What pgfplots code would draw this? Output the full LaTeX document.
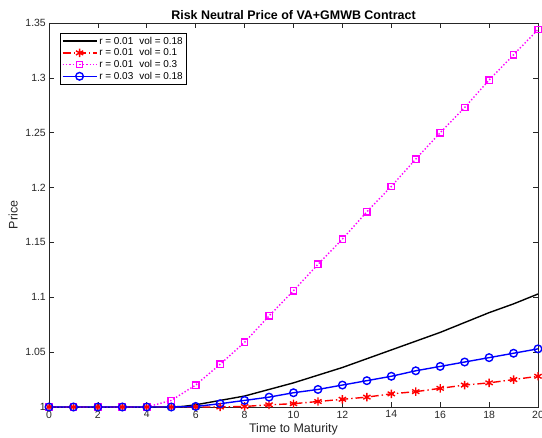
\documentclass[border=0pt]{standalone}
\usepackage{pgfplots}
\pgfplotsset{compat=1.18}
\usepackage{fontspec}
\setmainfont{Liberation Sans}
\begin{document}
\begin{tikzpicture}
\definecolor{axgray}{rgb}{0.15,0.15,0.15}
\definecolor{mmag}{rgb}{1,0,1}
\definecolor{mred}{rgb}{1,0,0}
\definecolor{mblue}{rgb}{0,0,1}
\begin{axis}[
  name=ax,
  scale only axis,
  width=489bp, height=384bp,
  xmin=0, xmax=20, ymin=1, ymax=1.35,
  xtick={0,2,...,20},
  ytick={1,1.05,1.1,1.15,1.2,1.25,1.3,1.35},
  yticklabels={1,1.05,1.1,1.15,1.2,1.25,1.3,1.35},
  tick align=inside,
  major tick length=5bp,
  axis line style={axgray, line width=0.7pt},
  every tick/.style={axgray, line width=0.7pt},
  tick label style={font=\fontsize{10.5}{12}\selectfont, text=axgray, inner sep=1pt},
  /pgf/number format/assume math mode=true,
  xticklabel style={yshift=-2.5bp},
  yticklabel style={xshift=-2bp},
  xlabel={Time to Maturity},
  ylabel={Price},
  label style={font=\fontsize{12.5}{14}\selectfont, text=axgray, inner sep=0pt},
  xlabel style={at={(axis description cs:0.5,0)}, anchor=north, yshift=-16bp},
  ylabel style={at={(axis description cs:0,0.5)}, anchor=south, yshift=31bp, rotate=0},
  title={\textbf{Risk Neutral Price of VA+GMWB Contract}},
  title style={font=\fontsize{12.5}{14}\selectfont, yshift=-6pt},
  legend style={at={(0.0225,0.974)}, anchor=north west, draw=black, line width=0.7pt,
    font=\fontsize{10}{12}\selectfont, inner sep=1.5pt, row sep=-1pt,
    /tikz/every even column/.append style={column sep=2pt}},
  legend cell align=left,
  legend image code/.code={\draw[mark repeat=2,mark phase=2] plot coordinates {(0cm,0cm) (0.6cm,0cm) (1.2cm,0cm)};},
  clip=false,
]
\addplot[black, line width=1.4pt] coordinates {
(0,1.000)(1,1.000)(2,1.000)(3,1.000)(4,1.000)(5,1.000)(5.5,1.0006)(6,1.002)(6.5,1.004)(7,1.006)(7.5,1.008)(8,1.010)(8.5,1.013)(9,1.016)(9.5,1.019)(10,1.022)(11,1.029)(12,1.036)(13,1.044)(14,1.052)(15,1.060)(16,1.068)(17,1.077)(18,1.086)(19,1.094)(20,1.103)};
\addlegendentry{r = 0.01\hspace{0.6em}vol = 0.18}
\addplot[mred, line width=1.4pt, dash pattern=on 8pt off 3pt on 1.4pt off 3pt, mark=asterisk, mark size=4.2bp, mark options={solid, line width=1.4pt}] coordinates {
(0,1.000)(1,1.000)(2,1.000)(3,1.000)(4,1.000)(5,1.000)(6,1.000)(7,1.000)(8,1.0005)(9,1.002)(10,1.003)(11,1.005)(12,1.007)(13,1.009)(14,1.012)(15,1.014)(16,1.017)(17,1.020)(18,1.022)(19,1.025)(20,1.028)};
\addlegendentry{r = 0.01\hspace{0.6em}vol = 0.1}
\addplot[mmag, line width=1.4pt, dotted, mark=square, mark size=3.2bp, mark options={solid, line width=1.4pt}] coordinates {
(0,1.000)(1,1.000)(2,1.000)(3,1.000)(4,1.000)(5,1.006)(6,1.020)(7,1.039)(8,1.059)(9,1.083)(10,1.106)(11,1.130)(12,1.153)(13,1.178)(14,1.201)(15,1.226)(16,1.250)(17,1.273)(18,1.298)(19,1.321)(20,1.344)};
\addlegendentry{r = 0.01\hspace{0.6em}vol = 0.3}
\addplot[mblue, line width=1.4pt, mark=o, mark size=3.8bp, mark options={solid, line width=1.4pt}] coordinates {
(0,1.000)(1,1.000)(2,1.000)(3,1.000)(4,1.000)(5,1.000)(6,1.0005)(7,1.003)(8,1.006)(9,1.009)(10,1.013)(11,1.016)(12,1.020)(13,1.024)(14,1.028)(15,1.033)(16,1.037)(17,1.041)(18,1.045)(19,1.049)(20,1.053)};
\addlegendentry{r = 0.03\hspace{0.6em}vol = 0.18}
\end{axis}
\pgfresetboundingbox
\path[use as bounding box] ([shift={(-49bp,-31bp)}]ax.south west) rectangle ([shift={(4bp,23bp)}]ax.north east);
\end{tikzpicture}
\end{document}
